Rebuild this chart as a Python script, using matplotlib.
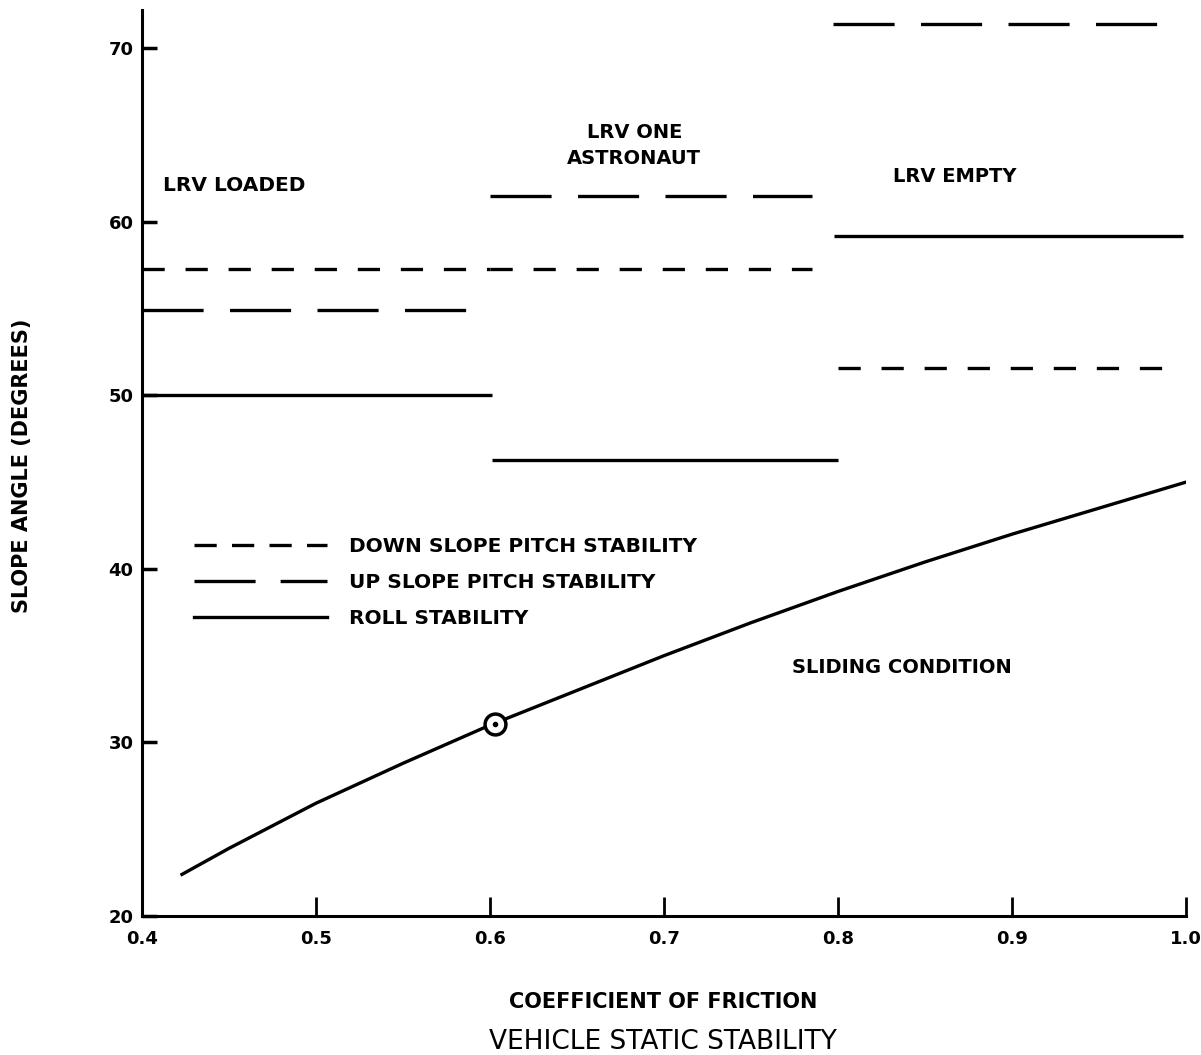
import matplotlib
matplotlib.use("Agg")
import matplotlib.pyplot as plt
from matplotlib.lines import Line2D

plt.rcParams['font.family'] = ['Liberation Sans Narrow', 'DejaVu Sans']
plt.rcParams['font.weight'] = 'bold'
plt.rcParams['lines.scale_dashes'] = False

# stability limits per vehicle configuration: (x start, x end, slope angle)
loaded_down = (0.40, 0.60, 57.3)
loaded_up = (0.40, 0.588, 54.9)
loaded_roll = (0.40, 0.601, 50.0)
one_astro_down = (0.60, 0.785, 57.3)
one_astro_up = (0.60, 0.785, 61.5)
one_astro_roll = (0.601, 0.80, 46.3)
empty_up = (0.797, 0.984, 71.4)
empty_roll = (0.798, 0.998, 59.2)
empty_down = (0.80, 0.986, 51.6)

# sliding condition curve
friction = [0.423, 0.45, 0.50, 0.55, 0.60, 0.65, 0.70, 0.75, 0.80, 0.85, 0.90, 0.95, 1.00]
slide_angle = [22.4, 23.9, 26.5, 28.8, 31.0, 33.0, 35.0, 36.9, 38.7, 40.4, 42.0, 43.5, 45.0]
marker_pt = (0.603, 31.05)

DOWN = (16, 15)
UP = (44, 19)
LW = 2.4

fig = plt.figure(figsize=(12.01, 10.55), dpi=100)
ax = fig.add_axes([0.1182, 0.1317, 0.8693, 0.8588])

def seg(s, dashes=None):
    x0, x1, y = s
    if dashes is None:
        ax.plot([x0, x1], [y, y], color='black', lw=LW, solid_capstyle='butt')
    else:
        ax.plot([x0, x1], [y, y], color='black', lw=LW, dashes=dashes, dash_capstyle='butt')

for s in [loaded_down, one_astro_down, empty_down]:
    seg(s, DOWN)
for s in [loaded_up, one_astro_up, empty_up]:
    seg(s, UP)
for s in [loaded_roll, one_astro_roll, empty_roll]:
    seg(s)

ax.plot(friction, slide_angle, color='black', lw=LW, solid_joinstyle='round')
ax.plot(*marker_pt, marker='o', ms=15, mfc='white', mec='black', mew=2.5)
ax.plot(*marker_pt, marker='o', ms=3, color='black')

ax.set_xlim(0.4, 1.0)
ax.set_ylim(20, 72.2)
ax.set_xticks([0.4, 0.5, 0.6, 0.7, 0.8, 0.9, 1.0])
ax.set_xticklabels(['0.4', '0.5', '0.6', '0.7', '0.8', '0.9', '1.0'])
ax.set_yticks([20, 30, 40, 50, 60, 70])
ax.tick_params(axis='x', direction='in', length=14, width=2, labelsize=13, pad=10)
ax.tick_params(axis='y', direction='in', length=11, width=2.5, labelsize=13, pad=6)
for side in ['top', 'right']:
    ax.spines[side].set_visible(False)
for side in ['left', 'bottom']:
    ax.spines[side].set_linewidth(2.2)

ax.text(0.412, 62.1, 'LRV LOADED', fontsize=14.5, va='center', ha='left')
ax.text(0.683, 64.4, 'LRV ONE\nASTRONAUT', fontsize=14, va='center', ha='center', linespacing=1.5)
ax.text(0.867, 62.6, 'LRV EMPTY', fontsize=14, va='center', ha='center')
ax.text(0.837, 34.3, 'SLIDING CONDITION', fontsize=14, va='center', ha='center')

handles = [
    Line2D([], [], color='black', lw=LW, dashes=(16, 11)),
    Line2D([], [], color='black', lw=LW, dashes=(44, 18)),
    Line2D([], [], color='black', lw=LW),
]
labels = ['DOWN SLOPE PITCH STABILITY', 'UP SLOPE PITCH STABILITY', 'ROLL STABILITY']
ax.legend(handles, labels, loc='upper left', bbox_to_anchor=(0.042, 0.427),
          frameon=False, fontsize=14.5, handlelength=6.6, handletextpad=1.1,
          labelspacing=0.85, borderaxespad=0)

fig.text(663 / 1201, 1 - 1002 / 1055, 'COEFFICIENT OF FRICTION', fontsize=15,
         ha='center', va='center')
fig.text(663 / 1201, 1 - 1042 / 1055, 'VEHICLE STATIC STABILITY', fontsize=19,
         ha='center', va='center', weight='medium')
fig.text(22 / 1201, 1 - 466 / 1055, 'SLOPE ANGLE (DEGREES)', fontsize=15,
         rotation=90, ha='center', va='center')

fig.savefig('out.png', dpi=100)
